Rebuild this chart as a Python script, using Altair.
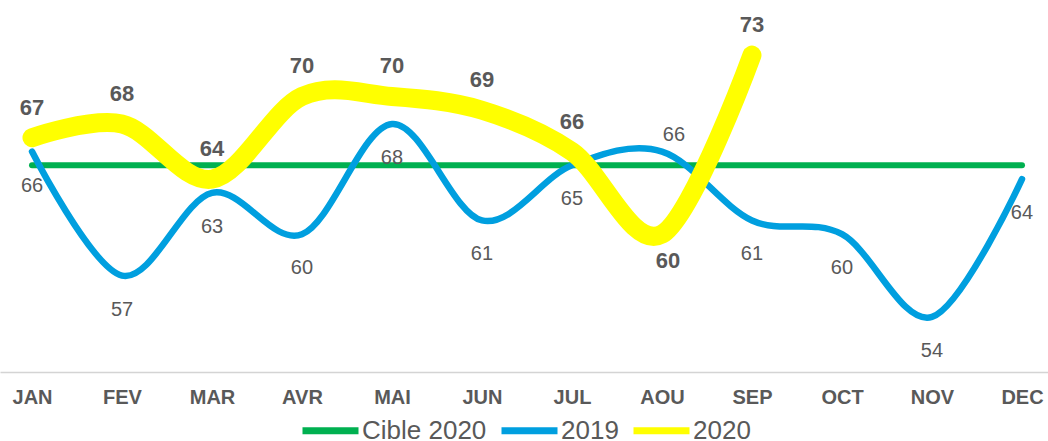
import altair as alt
import pandas as pd

# Monthly series
months = ["JAN", "FEV", "MAR", "AVR", "MAI", "JUN", "JUL", "AOU", "SEP", "OCT", "NOV", "DEC"]
cible_2020 = [65, 65, 65, 65, 65, 65, 65, 65, 65, 65, 65, 65]
values_2019 = [66, 57, 63, 60, 68, 61, 65, 66, 61, 60, 54, 64]
values_2020 = [67, 68, 64, 70, 70, 69, 66, 60, 73]

series_names = ["Cible 2020", "2019", "2020"]
series_colors = ["#00b050", "#009fdf", "#ffff00"]

rows = []
for name, vals in zip(series_names, [cible_2020, values_2019, values_2020]):
    for i, v in enumerate(vals):
        rows.append({"series": name, "month": months[i], "idx": i, "value": v})
df = pd.DataFrame(rows)

FONT = "Liberation Sans"
LABEL_GREY = "#595959"

month_expr = "[" + ",".join(f"'{m}'" for m in months) + "][datum.value]"

x_enc = alt.X(
    "idx:Q",
    scale=alt.Scale(domain=[-0.3556, 11.289], nice=False, zero=False),
    axis=alt.Axis(
        values=list(range(12)),
        labelExpr=month_expr,
        title=None,
        ticks=False,
        grid=False,
        domainColor="#d4d4d4",
        domainWidth=1.5,
        labelFont=FONT,
        labelFontSize=20,
        labelFontWeight="bold",
        labelColor=LABEL_GREY,
        labelPadding=15,
    ),
)
y_enc = alt.Y("value:Q", scale=alt.Scale(domain=[50, 77], nice=False, zero=False), axis=None)

color_enc = alt.Color(
    "series:N",
    scale=alt.Scale(domain=series_names, range=series_colors),
    legend=alt.Legend(
        title=None,
        orient="none",
        direction="horizontal",
        legendX=299,
        legendY=399,
        symbolType="stroke",
        symbolSize=3136,
        symbolStrokeWidth=7,
        labelFont=FONT,
        labelFontSize=26,
        labelColor=LABEL_GREY,
        labelOffset=0,
        columnPadding=0,
        padding=0,
    ),
)

base = alt.Chart(df).encode(x=x_enc, y=y_enc)


def series_line(name, width):
    return (
        base.transform_filter(alt.datum.series == name)
        .mark_line(interpolate="cardinal", strokeWidth=width, strokeCap="round", strokeJoin="round")
        .encode(color=color_enc, order="idx:Q")
    )


line_cible = series_line("Cible 2020", 6)
line_2019 = series_line("2019", 6.5)
line_2020 = series_line("2020", 19)

# Value labels for 2019 (mostly under the point)
labels_2019_below = (
    base.transform_filter((alt.datum.series == "2019") & (alt.datum.month != "AOU"))
    .mark_text(font=FONT, fontSize=20, color=LABEL_GREY, dy=34)
    .encode(text="value:Q")
)
labels_2019_above = (
    base.transform_filter((alt.datum.series == "2019") & (alt.datum.month == "AOU"))
    .mark_text(font=FONT, fontSize=20, color=LABEL_GREY, dy=-17, dx=12)
    .encode(text="value:Q")
)

# Value labels for 2020 (bold, above the point except the dip)
labels_2020_above = (
    base.transform_filter((alt.datum.series == "2020") & (alt.datum.month != "AOU"))
    .mark_text(font=FONT, fontSize=22, fontWeight="bold", color=LABEL_GREY, dy=-30)
    .encode(text="value:Q")
)
labels_2020_below = (
    base.transform_filter((alt.datum.series == "2020") & (alt.datum.month == "AOU"))
    .mark_text(font=FONT, fontSize=22, fontWeight="bold", color=LABEL_GREY, dy=27, dx=6)
    .encode(text="value:Q")
)

chart = (
    alt.layer(
        line_cible,
        line_2019,
        line_2020,
        labels_2019_below,
        labels_2019_above,
        labels_2020_above,
        labels_2020_below,
    )
    .properties(width=1048, height=372, padding=0, background="white")
    .configure_view(stroke=None)
)

chart.save("out.html", embed_options={"renderer": "svg", "actions": False})
